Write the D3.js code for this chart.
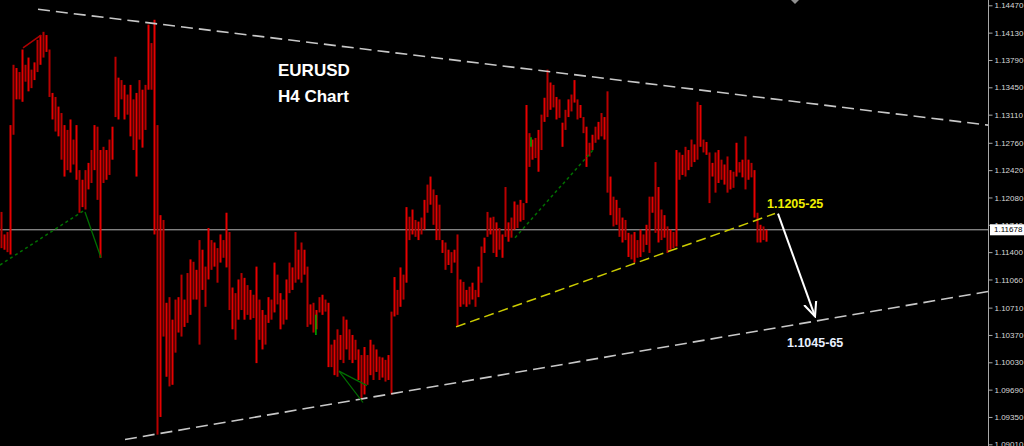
<!DOCTYPE html>
<html><head><meta charset="utf-8">
<script src="https://cdn.jsdelivr.net/npm/d3@7"></script>
<style>html,body{margin:0;padding:0;background:#000;overflow:hidden}</style>
</head><body><svg id="c" width="1024" height="446"></svg>
<script>
// ---- data (EURUSD H4) ----
const highs = [1.1190,1.1162,1.1165,1.1298,1.1373,1.1369,1.1364,1.1392,1.1373,1.1382,1.1367,1.1376,1.1404,1.1410,1.1414,1.1410,1.1392,1.1338,1.1333,1.1321,
1.1313,1.1298,1.1292,1.1305,1.1280,1.1298,1.1242,1.1230,1.1242,1.1251,1.1267,1.1298,1.1296,1.1267,1.1271,1.1267,1.1280,1.1296,1.1383,1.1357,
1.1354,1.1348,1.1336,1.1348,1.1330,1.1338,1.1354,1.1342,1.1348,1.1423,1.1400,1.1429,1.1298,1.1186,1.1180,1.1077,1.1084,1.1056,1.1081,1.1084,
1.1112,1.1081,1.1114,1.1131,1.1128,1.1118,1.1155,1.1143,1.1122,1.1170,1.1155,1.1152,1.1145,1.1162,1.1155,1.1189,1.1165,1.1096,1.1089,1.1106,
1.1114,1.1108,1.1099,1.1093,1.1087,1.1122,1.1081,1.1068,1.1062,1.1084,1.1081,1.1127,1.1112,1.1089,1.1081,1.1106,1.1127,1.1121,1.1165,1.1143,
1.1152,1.1143,1.1122,1.1075,1.1077,1.1068,1.1084,1.1087,1.1081,1.1077,1.1025,1.1031,1.1044,1.1037,1.1060,1.1056,1.1044,1.1037,1.1031,1.1019,
1.1012,1.1022,1.1012,1.1031,1.1025,1.1019,1.1010,1.1009,1.1006,1.1012,1.1066,1.1109,1.1093,1.1121,1.1112,1.1196,1.1184,1.1193,1.1180,1.1178,
1.1183,1.1205,1.1224,1.1234,1.1218,1.1211,1.1199,1.1155,1.1152,1.1143,1.1140,1.1143,1.1162,1.1106,1.1103,1.1093,1.1097,1.1102,1.1093,1.1122,
1.1147,1.1158,1.1190,1.1183,1.1184,1.1177,1.1170,1.1162,1.1221,1.1177,1.1183,1.1203,1.1199,1.1205,1.1201,1.1323,1.1288,1.1280,1.1282,1.1292,
1.1311,1.1332,1.1367,1.1351,1.1348,1.1333,1.1330,1.1301,1.1317,1.1330,1.1336,1.1354,1.1330,1.1323,1.1308,1.1296,1.1276,1.1286,1.1296,1.1302,
1.1313,1.1308,1.1340,1.1234,1.1209,1.1205,1.1195,1.1183,1.1180,1.1164,1.1162,1.1165,1.1155,1.1168,1.1162,1.1174,1.1209,1.1209,1.1252,1.1221,
1.1193,1.1186,1.1172,1.1168,1.1165,1.1267,1.1264,1.1261,1.1271,1.1267,1.1280,1.1274,1.1327,1.1323,1.1280,1.1277,1.1264,1.1251,1.1264,1.1267,
1.1255,1.1249,1.1259,1.1242,1.1240,1.1276,1.1252,1.1255,1.1284,1.1255,1.1251,1.1242,1.1189,1.1174,1.1172,1.1168];
const lows = [1.1145,1.1143,1.1140,1.1137,1.1286,1.1330,1.1330,1.1327,1.1352,1.1340,1.1344,1.1354,1.1364,1.1373,1.1382,1.1389,1.1333,1.1305,1.1290,1.1284,
1.1255,1.1234,1.1242,1.1239,1.1249,1.1230,1.1189,1.1196,1.1193,1.1218,1.1226,1.1242,1.1205,1.1133,1.1226,1.1230,1.1236,1.1255,1.1308,1.1305,
1.1330,1.1305,1.1311,1.1284,1.1267,1.1234,1.1280,1.1270,1.1292,1.1342,1.1342,1.1162,1.0913,1.0935,1.1035,1.0985,1.0973,1.0975,1.1015,1.1040,
1.1035,1.1047,1.1052,1.1062,1.1081,1.1081,1.1025,1.1093,1.1072,1.1106,1.1118,1.1122,1.1102,1.1127,1.1133,1.1121,1.1068,1.1044,1.1031,1.1056,
1.1068,1.1056,1.1062,1.1056,1.1058,1.1002,1.1031,1.1019,1.1025,1.1052,1.1056,1.1065,1.1075,1.1044,1.1050,1.1056,1.1089,1.1093,1.1102,1.1106,
1.1102,1.1112,1.1047,1.1050,1.1040,1.1044,1.1065,1.1062,1.1066,1.0997,1.0997,1.0987,1.0985,1.1006,1.1002,1.1019,1.1006,1.1002,1.1006,1.0981,
1.0956,1.0963,1.0975,1.0987,1.0981,1.0991,1.0981,1.0984,1.0979,1.0981,1.0963,1.1060,1.1062,1.1072,1.1081,1.1102,1.1155,1.1162,1.1159,1.1155,
1.1162,1.1168,1.1189,1.1199,1.1174,1.1155,1.1155,1.1139,1.1118,1.1124,1.1114,1.1127,1.1047,1.1072,1.1075,1.1072,1.1075,1.1081,1.1072,1.1084,
1.1102,1.1139,1.1159,1.1162,1.1139,1.1134,1.1143,1.1133,1.1159,1.1153,1.1158,1.1168,1.1170,1.1178,1.1180,1.1201,1.1246,1.1255,1.1257,1.1240,
1.1267,1.1302,1.1308,1.1317,1.1320,1.1305,1.1307,1.1271,1.1292,1.1308,1.1315,1.1326,1.1305,1.1307,1.1288,1.1246,1.1259,1.1267,1.1276,1.1280,
1.1284,1.1280,1.1214,1.1186,1.1172,1.1174,1.1159,1.1152,1.1155,1.1134,1.1131,1.1127,1.1133,1.1134,1.1140,1.1149,1.1139,1.1189,1.1164,1.1152,
1.1155,1.1158,1.1139,1.1143,1.1145,1.1147,1.1230,1.1236,1.1234,1.1242,1.1246,1.1252,1.1255,1.1271,1.1264,1.1261,1.1201,1.1234,1.1214,1.1226,
1.1230,1.1224,1.1214,1.1218,1.1220,1.1234,1.1239,1.1233,1.1218,1.1230,1.1233,1.1183,1.1152,1.1152,1.1155,1.1153];
const priceTicks = [1.14470,1.14130,1.13790,1.13450,1.13110,1.12760,1.12420,1.12080,1.11740,1.11400,1.11060,1.10710,1.10370,1.10030,1.09690,1.09350,1.09010];
const currentPrice = 1.11678;
// annotations in [bar index, price]
const upperTrend = [[12.67,1.1442],[329.33,1.1298]];
const lowerTrend = [[41.67,1.0907],[329.33,1.1091]];
const yellowTrend = [[152,1.1047],[258.33,1.1188]];
const greenDashA = [[0,1.1124],[27.67,1.1191]];
const greenSolidA = [[28.33,1.1190],[33.67,1.1133]];
const greenLow1 = [[113,1.0992],[121,1.0953]];
const greenLow2 = [[113,1.0992],[122.33,1.0974]];
const greenDashB = [[171.67,1.1158],[197.67,1.1267]];
const redLine = [[7.67,1.1394],[13.67,1.1410]];
const arrowPath = [[259.33,1.1188],[271.67,1.1060]];
const greenMarks = [[105.3,1.1062,1.1037],[177,1.1283,1.1271]];
const targetLabels = [["1.1205-25",255.67,1.1195,"#f0f000"],["1.1045-65",262.33,1.1022,"#e8f0ff"]];
const titleLines = ["EURUSD","H4 Chart"];

// ---- drawing ----
const W=1024,H=446,axisX=988;
const svg=d3.select('#c');
svg.append('rect').attr('width',W).attr('height',H).attr('fill','#000');
const x=d3.scaleLinear().domain([0,256]).range([0,768]);
const y=d3.scaleLinear().domain([1.0901,1.1447]).range([444.3,5.3]);
const line=d3.line().x(d=>x(d[0])).y(d=>y(d[1]));

// current price line
svg.append('line').attr('x1',0).attr('x2',axisX).attr('y1',y(currentPrice)).attr('y2',y(currentPrice))
  .attr('stroke','#b4b4b4').attr('stroke-width',1);

// bars
svg.append('g').selectAll('rect').data(highs).join('rect')
  .attr('x',(d,i)=>x(i)+0.5).attr('width',2)
  .attr('y',d=>y(d)).attr('height',(d,i)=>Math.max(1,y(lows[i])-y(d)))
  .attr('fill',(d,i)=>i%2?'#e60000':'#b80000');

// trend lines
const dl=(data,color,w,dash)=>svg.append('path').attr('d',line(data)).attr('fill','none')
  .attr('stroke',color).attr('stroke-width',w).attr('stroke-dasharray',dash||null);
dl(upperTrend,'#c8c8c8',1.6,'12,6');
dl(lowerTrend,'#c8c8c8',1.6,'12,6');
dl(yellowTrend,'#cccc00',1.5,'10,5');
dl(greenDashA,'#007000',1.5,'3,3');
dl(greenSolidA,'#007000',1.3);
dl(greenLow1,'#007000',1.2);
dl(greenLow2,'#007000',1.2);
dl(greenDashB,'#007000',1.5,'3,3');
dl(redLine,'#b00000',1.5);
greenMarks.forEach(g=>svg.append('line').attr('x1',x(g[0])).attr('x2',x(g[0]))
  .attr('y1',y(g[1])).attr('y2',y(g[2])).attr('stroke','#00b000').attr('stroke-width',1.5));

// arrow
svg.append('defs').append('marker').attr('id','ah').attr('viewBox','0 0 10 10')
  .attr('refX',9).attr('refY',5).attr('markerWidth',8).attr('markerHeight',8).attr('orient','auto')
  .append('path').attr('d','M0,1 L9,5 L0,9').attr('fill','none').attr('stroke','#fff').attr('stroke-width',1.3);
svg.append('path').attr('d',line(arrowPath)).attr('stroke','#fff').attr('stroke-width',2)
  .attr('fill','none').attr('marker-end','url(#ah)');

// labels
targetLabels.forEach(t=>svg.append('text').attr('x',x(t[1])).attr('y',y(t[2])).text(t[0])
  .attr('fill',t[3]).attr('font-family','Liberation Sans, Arial, sans-serif').attr('font-weight','bold').attr('font-size','12.5px'));
titleLines.forEach((t,i)=>svg.append('text').attr('x',278).attr('y',76+i*26).text(t)
  .attr('fill','#fff').attr('font-family','Liberation Sans, Arial, sans-serif').attr('font-weight','bold').attr('font-size','17px'));

// top marker
svg.append('path').attr('d','M791,0 L799,0 L795,4 Z').attr('fill','#909090');

// axis
svg.append('rect').attr('x',axisX+1).attr('y',0).attr('width',W-axisX).attr('height',H).attr('fill','#000');
svg.append('line').attr('x1',axisX+0.5).attr('x2',axisX+0.5).attr('y1',0).attr('y2',H).attr('stroke','#a8a8a8');
const ax=svg.append('g').attr('transform',`translate(${axisX+0.5},0)`)
  .call(d3.axisRight(y).tickValues(priceTicks).tickSize(4).tickSizeOuter(0).tickPadding(2).tickFormat(d3.format('.5f')));
ax.select('.domain').remove();
ax.selectAll('line').attr('stroke','#a8a8a8');
ax.selectAll('text').attr('fill','#d8d8d8').attr('font-family','Liberation Sans, Arial, sans-serif').attr('font-size','8px');
// current price box
const cy=y(currentPrice);
svg.append('rect').attr('x',axisX+2).attr('y',cy-5.5).attr('width',W-axisX-2).attr('height',11).attr('fill','#fff');
svg.append('text').attr('x',axisX+6).attr('y',cy).attr('dy','0.32em').text(d3.format('.5f')(currentPrice))
  .attr('fill','#000').attr('font-family','Liberation Sans, Arial, sans-serif').attr('font-size','8px');
</script></body></html>
